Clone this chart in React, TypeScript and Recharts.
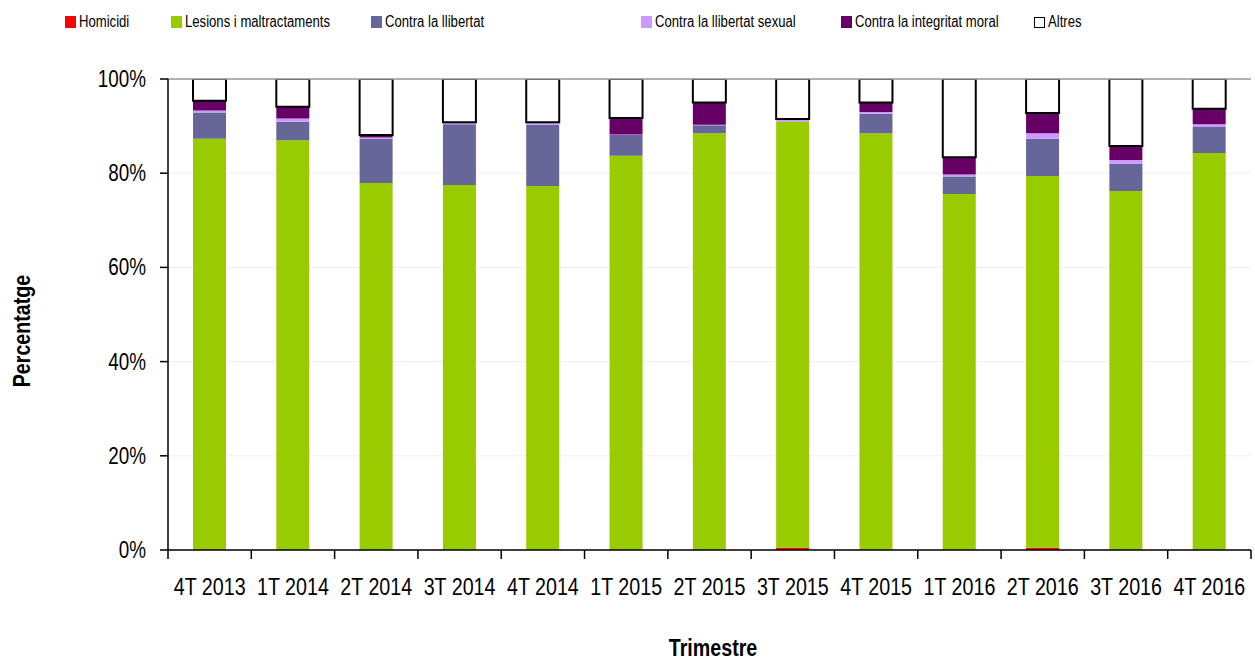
import { BarChart, Bar, XAxis, YAxis, CartesianGrid, ReferenceLine, Label } from 'recharts'

const categories = ['4T 2013', '1T 2014', '2T 2014', '3T 2014', '4T 2014', '1T 2015', '2T 2015', '3T 2015', '4T 2015', '1T 2016', '2T 2016', '3T 2016', '4T 2016']
const homicidi = [0.1, 0, 0, 0, 0, 0, 0, 0.5, 0, 0, 0.5, 0, 0]
const lesions = [87.2, 87.0, 77.9, 77.5, 77.3, 83.7, 88.5, 90.4, 88.5, 75.6, 78.9, 76.2, 84.3]
const llibertat = [5.6, 3.9, 9.4, 12.9, 13.0, 4.4, 1.7, 0.1, 4.1, 3.7, 7.9, 5.8, 5.5]
const sexual = [0.4, 0.7, 0.3, 0.3, 0.4, 0.1, 0.1, 0.3, 0.4, 0.4, 1.2, 0.8, 0.6]
const moral = [2.1, 2.5, 0.5, 0.1, 0.1, 3.5, 4.7, 0.2, 2.0, 3.7, 4.3, 3.0, 3.3]
const altres = [4.6, 5.9, 11.9, 9.2, 9.2, 8.3, 5.0, 8.5, 5.0, 16.6, 7.2, 14.2, 6.3]
const yTicks = [0, 20, 40, 60, 80, 100]

const data = categories.map((name, i) => ({
  name,
  homicidi: homicidi[i],
  lesions: lesions[i],
  llibertat: llibertat[i],
  sexual: sexual[i],
  moral: moral[i],
  altres: altres[i],
}))

// no Arial Narrow here, so squeeze Liberation Sans horizontally
const FONT = '"Liberation Sans", Arial, sans-serif'
const NARROW = 0.82

const series = [
  { key: 'homicidi', label: 'Homicidi', color: '#FF0000', left: 65 },
  { key: 'lesions', label: 'Lesions i maltractaments', color: '#99CC00', left: 171 },
  { key: 'llibertat', label: 'Contra la llibertat', color: '#666699', left: 371 },
  { key: 'sexual', label: 'Contra la llibertat sexual', color: '#CC99FF', left: 641 },
  { key: 'moral', label: 'Contra la integritat moral', color: '#660066', left: 841 },
  { key: 'altres', label: 'Altres', color: '#FFFFFF', left: 1034 },
]

const HALF_BAND = (1251 - 168) / 13 / 2

function NarrowText({ x, y, anchor = 'start', size, bold = false, rotate = 0, children }: any) {
  return (
    <text
      transform={`translate(${x},${y}) rotate(${rotate}) scale(${NARROW},1)`}
      textAnchor={anchor}
      fontSize={size}
      fontWeight={bold ? 'bold' : 'normal'}
      fontFamily={FONT}
      fill="#000"
    >
      {children}
    </text>
  )
}

function XTick(props: any) {
  const { x, y, payload, index } = props
  return (
    <g>
      <line x1={x - HALF_BAND} x2={x - HALF_BAND} y1={550} y2={559} stroke="#000" strokeWidth={1.5} />
      {index === categories.length - 1 && (
        <line x1={x + HALF_BAND} x2={x + HALF_BAND} y1={550} y2={559} stroke="#000" strokeWidth={1.5} />
      )}
      <NarrowText x={x} y={595} anchor="middle" size={24}>
        {payload.value}
      </NarrowText>
    </g>
  )
}

function YTick(props: any) {
  const { y, payload } = props
  return (
    <NarrowText x={146} y={y + 8} anchor="end" size={23}>
      {`${payload.value}%`}
    </NarrowText>
  )
}

function LegendBox() {
  return (
    <svg width={1255} height={40} style={{ position: 'absolute', left: 0, top: 0 }}>
      {series.map((s) => (
        <g key={s.key}>
          {s.key === 'altres' ? (
            <rect x={s.left + 0.5} y={17.5} width={10} height={10} fill="#fff" stroke="#000" strokeWidth={1} />
          ) : (
            <rect x={s.left} y={16} width={11} height={12} fill={s.color} />
          )}
          <NarrowText x={s.left + 14} y={27} size={16}>
            {s.label}
          </NarrowText>
        </g>
      ))}
    </svg>
  )
}

export default function App() {
  return (
    <div style={{ position: 'absolute', left: 0, top: 0, width: 1255, height: 660, background: '#fff' }}>
      <BarChart width={1255} height={660} data={data} margin={{ top: 79, right: 4, left: 108, bottom: 50 }} barSize={33}>
        <CartesianGrid vertical={false} stroke="#efefef" />
        <XAxis
          dataKey="name"
          stroke="#000"
          strokeWidth={1.5}
          tickLine={false}
          tickSize={0}
          height={60}
          interval={0}
          tick={<XTick />}
        >
          <Label
            content={() => (
              <NarrowText x={713} y={656} anchor="middle" size={24} bold>
                Trimestre
              </NarrowText>
            )}
          />
        </XAxis>
        <YAxis
          domain={[0, 100]}
          ticks={yTicks}
          width={60}
          stroke="#000"
          strokeWidth={1.5}
          tickSize={8}
          tick={<YTick />}
          allowDataOverflow
        >
          <Label
            content={() => (
              <NarrowText x={30} y={331} anchor="middle" size={24} bold rotate={-90}>
                Percentatge
              </NarrowText>
            )}
          />
        </YAxis>
        <YAxis yAxisId="right" orientation="right" width={0} stroke="#999" tick={false} tickLine={false} domain={[0, 100]} />
        <ReferenceLine y={100} stroke="#999" strokeWidth={1.5} />
        {series.map((s) => (
          <Bar
            key={s.key}
            dataKey={s.key}
            stackId="a"
            fill={s.color}
            stroke={s.key === 'altres' ? '#000' : 'none'}
            strokeWidth={s.key === 'altres' ? 2 : 0}
            isAnimationActive={false}
          />
        ))}
      </BarChart>
      <LegendBox />
    </div>
  )
}
